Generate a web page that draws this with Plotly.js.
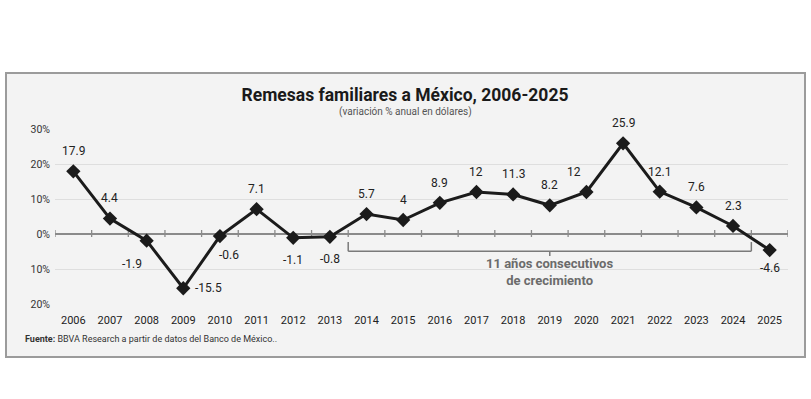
<!DOCTYPE html>
<html>
<head>
<meta charset="utf-8">
<script src="https://cdn.plot.ly/plotly-3.0.1.min.js"></script>
<style>
  html, body { margin: 0; padding: 0; background: #ffffff; }
  #wrap { position: relative; width: 811px; height: 399px; }
  #panel { position: absolute; left: 5px; top: 72px; width: 797px; height: 282px;
           background: #f3f3f3; border: 2px solid #9b9b9b; }
  #chart { position: absolute; left: 0; top: 0; width: 811px; height: 399px; }
</style>
</head>
<body>
<div id="wrap">
  <div id="panel"></div>
  <div id="chart"></div>
</div>
<script>
// ---- data ----
const years = ['2006','2007','2008','2009','2010','2011','2012','2013','2014','2015',
               '2016','2017','2018','2019','2020','2021','2022','2023','2024','2025'];
const values = [17.9, 4.4, -1.9, -15.5, -0.6, 7.1, -1.1, -0.8, 5.7, 4,
                8.9, 12, 11.3, 8.2, 12, 25.9, 12.1, 7.6, 2.3, -4.6];
const yTickVals = [30, 20, 10, 0, -10, -20];
const yTickText = ['30%', '20%', '10%', '0%', '10%', '20%'];
const titleText = 'Remesas familiares a México, 2006-2025';
const subtitleText = '(variación % anual en dólares)';
const sourceText = '<b>Fuente:</b> BBVA Research a partir de datos del Banco de México..';
const bracketText = '<b>11 años consecutivos<br>de crecimiento</b>';
const bracketFrom = '2014', bracketTo = '2024';

// ---- label offsets (style, px; positive y = up) ----
const labelShift = [
  [0,20],[0,21],[-15,-23],[25,0],[9,-19],[0,20],[0,-22],[0,-22],[0,20],[0,20],
  [0,20],[0,20],[0,20],[0,20],[-12,20],[0,20],[0,20],[0,20],[0,20],[0,-18]
];

const FONT = 'Roboto, "Noto Sans", sans-serif';
const INK = '#1b1b1b';

const trace = {
  x: years, y: values, type: 'scatter', mode: 'lines+markers',
  line: { color: INK, width: 3 },
  marker: { symbol: 'diamond', size: 11, color: INK },
  hoverinfo: 'x+y', cliponaxis: false
};

// category index positions (years are numeric-looking strings)
const annotations = values.map((v, i) => ({
  x: years.indexOf(years[i]), y: v, xref: 'x', yref: 'y', text: String(v), showarrow: false,
  xshift: labelShift[i][0], yshift: labelShift[i][1],
  font: { family: FONT, size: 12, color: '#222' }
}));

const i0 = years.indexOf(bracketFrom) - 0.5;
const i1 = years.indexOf(bracketTo) + 0.5;
annotations.push({
  x: (i0 + i1) / 2, y: -10.9, xref: 'x', yref: 'y', text: bracketText, showarrow: false,
  font: { family: FONT, size: 13, color: '#6b6b6b' }, align: 'center', yanchor: 'middle'
});
annotations.push({
  x: (405 - 55) / 733, y: (304 - 112) / 175, xref: 'paper', yref: 'paper',
  text: subtitleText, showarrow: false, xanchor: 'center', yanchor: 'middle',
  font: { family: FONT, size: 10, color: '#555' }
});
annotations.push({
  x: (23 - 55) / 733, y: (304 - 339) / 175, xref: 'paper', yref: 'paper',
  text: sourceText, showarrow: false, xanchor: 'left', yanchor: 'middle',
  font: { family: FONT, size: 9, color: '#333' }
});

const bracketColor = '#7a7a7a';
const shapes = [
  { type: 'line', xref: 'x', yref: 'y', x0: i0, x1: i1, y0: -4.9, y1: -4.9, line: { color: bracketColor, width: 1.5 } },
  { type: 'line', xref: 'x', yref: 'y', x0: i0, x1: i0, y0: -4.9, y1: -2.3, line: { color: bracketColor, width: 1.5 } },
  { type: 'line', xref: 'x', yref: 'y', x0: i1, x1: i1, y0: -4.9, y1: -2.3, line: { color: bracketColor, width: 1.5 } },
  { type: 'line', xref: 'x', yref: 'y', x0: (i0 + i1) / 2, x1: (i0 + i1) / 2, y0: -4.9, y1: -6.3, line: { color: bracketColor, width: 1.5 } }
];
for (let i = 0; i <= years.length; i++) {
  shapes.push({ type: 'line', xref: 'x', yref: 'y', ysizemode: 'pixel', yanchor: 0,
    x0: i - 0.5, x1: i - 0.5, y0: -3, y1: 4, line: { color: '#8a8a8a', width: 1.3 }, layer: 'below' });
}

const layout = {
  width: 811, height: 399,
  margin: { l: 55, r: 23, t: 129, b: 95, pad: 0 },
  paper_bgcolor: 'rgba(0,0,0,0)', plot_bgcolor: 'rgba(0,0,0,0)',
  showlegend: false,
  font: { family: FONT, color: '#222' },
  title: { text: '<b>' + titleText + '</b>', x: 405/811, xref: 'container', xanchor: 'center',
           y: 1 - 95/399, yref: 'container', yanchor: 'middle',
           font: { family: FONT, size: 17.5, color: '#1a1a1a' } },
  xaxis: { type: 'category', range: [-0.5, years.length - 0.5], showgrid: false, zeroline: false,
           showline: false, ticks: '', ticklabelstandoff: 8,
           tickfont: { family: FONT, size: 11, color: '#222' }, fixedrange: true },
  yaxis: { range: [-20, 30], tickvals: yTickVals, ticktext: yTickText, showgrid: true,
           gridcolor: '#dedede', gridwidth: 1, zeroline: true, zerolinecolor: '#8a8a8a', zerolinewidth: 1.5,
           showline: false, ticks: '', ticklabelstandoff: 4,
           tickfont: { family: FONT, size: 10.5, color: '#333' }, fixedrange: true },
  annotations: annotations,
  shapes: shapes
};

Plotly.newPlot('chart', [trace], layout, { displayModeBar: false, staticPlot: true });
</script>
</body>
</html>
